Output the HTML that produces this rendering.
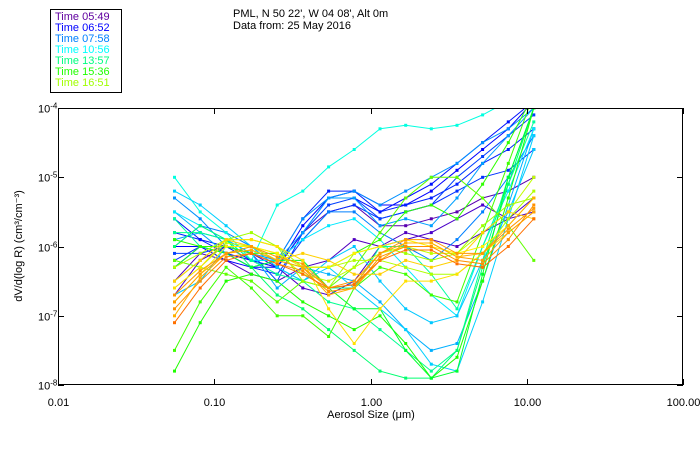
<!DOCTYPE html>
<html><head><meta charset="utf-8"><style>
body{margin:0;background:#fff;}
svg{display:block;font-family:"Liberation Sans",sans-serif;}
</style></head><body>
<svg id="chart" width="700" height="450" viewBox="0 0 700 450" xmlns="http://www.w3.org/2000/svg">
<defs><clipPath id="pc"><rect x="58" y="108" width="625" height="277"/></clipPath></defs>
<g>
<rect x="50.5" y="9.5" width="71" height="83" fill="#fff" stroke="#000" stroke-width="1"/>
<text x="55" y="20" font-size="11" fill="#6000a0">Time 05:49</text>
<text x="55" y="31" font-size="11" fill="#0000ff">Time 06:52</text>
<text x="55" y="42" font-size="11" fill="#0080ff">Time 07:58</text>
<text x="55" y="53" font-size="11" fill="#00ffff">Time 10:56</text>
<text x="55" y="64" font-size="11" fill="#00ff80">Time 13:57</text>
<text x="55" y="75" font-size="11" fill="#20ff00">Time 15:36</text>
<text x="55" y="86" font-size="11" fill="#a0ff00">Time 16:51</text>
</g>
<text x="233" y="17" font-size="11">PML, N 50 22', W 04 08', Alt 0m</text>
<text x="233" y="29" font-size="11">Data from: 25 May 2016</text>
<g id="series" clip-path="url(#pc)"></g>
<rect x="58.5" y="108.5" width="624" height="276" fill="none" stroke="#000"/>
<g id="axes"></g>
<text x="371" y="418" font-size="11" text-anchor="middle">Aerosol Size (μm)</text>
<text transform="translate(22,246) rotate(-90)" font-size="11" text-anchor="middle">dV/d(log R) (cm³/cm⁻³)</text>
</svg>
<script>
const sizes=[0.0557,0.0813,0.119,0.173,0.253,0.369,0.539,0.787,1.15,1.68,2.45,3.58,5.22,7.62,11.1];
const xTicks=[0.01,0.1,1,10,100];
const xTickLabels=["0.01","0.10","1.00","10.00","100.00"];
const yTicks=[-4,-5,-6,-7,-8];
const seriesColors=["#5a00b0","#5000c0","#4a00c8","#0000ff","#0020ff","#0030ff","#0010ff","#0040ff","#0090ff","#00a0ff","#00b0ff","#0080ff","#00ffe0","#00d0ff","#00e8ff","#00c8ff","#00ff90","#00ffa0","#00ff70","#20ff00","#40ff00","#00ff30","#30ff00","#60ff00","#a0ff00","#b0ff00","#c0ff00","#ffe000","#fff000","#ffd000","#ffa000","#ff9000","#ffb000","#ff7000","#ff9800"];
// log10 of dV/d(log R)
const logValues=[
[-6.3,-6.0,-6.1,-6.2,-6.3,-5.8,-5.5,-5.4,-5.7,-5.7,-5.6,-5.5,-5.3,-5.2,-5.0],
[-6.5,-6.1,-6.2,-6.4,-6.5,-6.3,-6.2,-5.9,-6.0,-5.8,-5.9,-6.0,-5.8,-5.6,-5.5],
[-6.7,-6.2,-6.0,-6.1,-6.3,-6.6,-6.7,-6.5,-6.0,-5.9,-5.8,-5.6,-5.4,-5.6,-5.3],
[-6.0,-6.0,-6.2,-6.3,-6.3,-5.7,-5.3,-5.2,-5.4,-5.4,-5.2,-4.9,-4.6,-4.3,-3.9],
[-5.8,-5.9,-6.1,-6.2,-6.2,-5.6,-5.2,-5.2,-5.5,-5.4,-5.3,-5.1,-4.8,-4.6,-4.3],
[-6.2,-6.0,-6.1,-6.3,-6.4,-5.9,-5.5,-5.4,-5.6,-5.5,-5.4,-5.2,-5.0,-4.9,-4.6],
[-5.6,-5.9,-6.0,-6.2,-6.3,-5.8,-5.3,-5.3,-5.5,-5.3,-5.1,-4.8,-4.5,-4.2,-3.9],
[-6.1,-6.1,-6.0,-6.1,-6.5,-5.8,-5.4,-5.3,-5.6,-5.5,-5.4,-5.0,-4.7,-4.4,-4.1],
[-5.3,-5.6,-6.0,-6.1,-6.2,-5.6,-5.3,-5.2,-5.4,-5.2,-5.0,-4.8,-4.5,-4.3,-4.0],
[-5.9,-5.8,-6.1,-6.3,-6.2,-5.8,-5.3,-5.3,-5.7,-5.6,-5.7,-5.3,-4.8,-4.4,-4.0],
[-5.5,-5.8,-5.9,-6.1,-6.6,-6.3,-6.4,-6.5,-6.8,-7.2,-7.5,-7.4,-6.5,-5.4,-4.3],
[-6.0,-5.7,-5.8,-6.0,-6.2,-5.9,-5.5,-5.5,-5.8,-6.0,-6.2,-5.9,-5.5,-5.0,-4.4],
[-5.0,-5.5,-5.8,-6.2,-5.4,-5.2,-4.85,-4.6,-4.3,-4.25,-4.3,-4.25,-4.1,-3.9,-3.7],
[-5.2,-5.4,-5.7,-6.0,-6.3,-6.5,-6.3,-6.6,-6.9,-7.2,-7.7,-7.8,-6.8,-5.6,-4.4],
[-5.5,-5.7,-5.9,-6.2,-6.2,-5.9,-5.7,-5.6,-5.9,-6.3,-6.7,-7.0,-6.0,-5.2,-4.3],
[-6.7,-6.5,-6.0,-6.0,-6.3,-6.5,-6.2,-6.0,-6.5,-6.9,-7.1,-7.0,-6.2,-5.5,-4.6],
[-5.8,-5.8,-5.9,-6.2,-6.4,-6.5,-6.8,-6.9,-7.2,-7.5,-7.8,-7.5,-6.2,-5.0,-4.0],
[-5.6,-6.0,-6.1,-6.0,-6.2,-6.3,-6.6,-6.6,-6.0,-6.0,-6.4,-6.9,-6.0,-5.1,-4.2],
[-6.0,-5.7,-5.9,-6.3,-6.7,-6.9,-7.2,-7.5,-7.8,-7.9,-7.9,-7.5,-6.3,-5.1,-4.0],
[-7.8,-7.1,-6.5,-6.4,-6.5,-6.8,-7.0,-7.2,-7.0,-7.4,-7.9,-7.6,-6.5,-5.3,-4.0],
[-7.5,-6.8,-6.3,-6.6,-7.0,-7.0,-7.3,-6.6,-6.3,-6.4,-6.7,-6.8,-5.8,-4.8,-3.8],
[-6.3,-6.0,-6.1,-6.3,-6.2,-6.2,-6.6,-6.9,-6.9,-7.5,-7.9,-7.8,-6.4,-5.0,-4.0],
[-5.9,-6.0,-6.0,-6.1,-6.1,-6.3,-6.3,-6.1,-5.9,-5.5,-5.4,-5.6,-5.1,-4.5,-3.8],
[-6.2,-6.3,-6.4,-6.5,-6.8,-6.5,-6.6,-6.3,-5.8,-5.3,-5.0,-5.0,-5.3,-5.7,-6.2],
[-6.5,-6.2,-5.9,-5.8,-6.0,-6.5,-6.6,-6.1,-6.0,-6.1,-6.2,-6.1,-5.7,-5.4,-5.3],
[-6.3,-6.1,-5.9,-5.9,-6.0,-6.3,-6.3,-6.2,-6.2,-6.3,-6.4,-6.4,-6.1,-5.6,-5.2],
[-6.6,-6.3,-5.95,-6.0,-6.1,-6.4,-6.5,-6.3,-6.1,-6.0,-6.1,-6.1,-5.8,-5.5,-5.0],
[-6.6,-6.3,-5.9,-5.9,-6.0,-6.2,-6.9,-7.4,-6.9,-6.5,-6.5,-6.4,-6.1,-5.8,-5.5],
[-6.8,-6.4,-6.0,-6.0,-6.1,-6.3,-6.3,-6.1,-6.0,-5.9,-6.0,-6.1,-6.0,-5.7,-5.3],
[-6.5,-6.2,-5.9,-6.0,-6.2,-6.1,-6.2,-6.4,-6.4,-6.2,-6.3,-6.2,-5.8,-5.5,-5.6],
[-6.8,-6.4,-6.1,-6.05,-6.2,-6.3,-6.6,-6.55,-6.1,-5.95,-5.95,-6.15,-6.2,-5.8,-5.5],
[-6.9,-6.5,-6.15,-6.1,-6.25,-6.35,-6.65,-6.6,-6.15,-6.0,-6.0,-6.2,-6.25,-5.9,-5.4],
[-7.0,-6.45,-6.1,-6.05,-6.2,-6.3,-6.7,-6.6,-6.2,-5.95,-5.95,-6.15,-6.1,-5.7,-5.3],
[-7.1,-6.6,-6.2,-6.1,-6.25,-6.4,-6.6,-6.55,-6.2,-6.05,-6.05,-6.25,-6.3,-6.0,-5.6],
[-6.7,-6.35,-6.1,-6.0,-6.15,-6.25,-6.6,-6.5,-6.1,-5.9,-5.9,-6.1,-6.1,-5.75,-5.45]
];
const NS="http://www.w3.org/2000/svg";
const X0=58,X1=683,Y0=108,Y1=385;
function xs(v){return X0+(Math.log10(v)+2)/4*(X1-X0);}
function ys(l){return Y0+(-4-l)/4*(Y1-Y0);}
const sg=document.getElementById('series');
logValues.forEach((vals,si)=>{
  const col=seriesColors[si%seriesColors.length];
  const pl=document.createElementNS(NS,'polyline');
  
  
  pl.setAttribute('points',vals.map((v,i)=>xs(sizes[i]).toFixed(1)+','+ys(v).toFixed(1)).join(' '));
  pl.setAttribute('fill','none');pl.setAttribute('stroke',col);pl.setAttribute('stroke-width','1');
  sg.appendChild(pl);
  vals.forEach((v,i)=>{
    const r=document.createElementNS(NS,'rect');
    
    
    r.setAttribute('x',(xs(sizes[i])-1.5).toFixed(1));r.setAttribute('y',(ys(v)-1.5).toFixed(1));
    r.setAttribute('width','3');r.setAttribute('height','3');r.setAttribute('fill',col);
    sg.appendChild(r);
  });
});
const ax=document.getElementById('axes');
xTicks.forEach((t,i)=>{
  const x=Math.round(xs(t))+0.5;
  [[Y0,Y0+6],[Y1-6,Y1]].forEach(([a,b])=>{
    const l=document.createElementNS(NS,'line');
    
    
    l.setAttribute('x1',x);l.setAttribute('x2',x);l.setAttribute('y1',a);l.setAttribute('y2',b);l.setAttribute('stroke','#000');
    ax.appendChild(l);
  });
  const tx=document.createElementNS(NS,'text');
  
  
  tx.setAttribute('x',x);tx.setAttribute('y',406);tx.setAttribute('font-size','11');tx.setAttribute('text-anchor','middle');
  tx.textContent=xTickLabels[i];ax.appendChild(tx);
});
yTicks.forEach(t=>{
  const y=Math.round(ys(t))+0.5;
  [[X0,X0+6],[X1-6,X1]].forEach(([a,b])=>{
    const l=document.createElementNS(NS,'line');
    
    
    l.setAttribute('x1',a);l.setAttribute('x2',b);l.setAttribute('y1',y);l.setAttribute('y2',y);l.setAttribute('stroke','#000');
    ax.appendChild(l);
  });
  const tx=document.createElementNS(NS,'text');
  
  
  tx.setAttribute('x',38);tx.setAttribute('y',y+4);tx.setAttribute('font-size','11');
  tx.textContent='10';
  const sup=document.createElementNS(NS,'tspan');
  sup.setAttribute('dy','-4');sup.setAttribute('font-size','8');
  sup.textContent=String(t);
  tx.appendChild(sup);ax.appendChild(tx);
});
</script>
</body></html>
